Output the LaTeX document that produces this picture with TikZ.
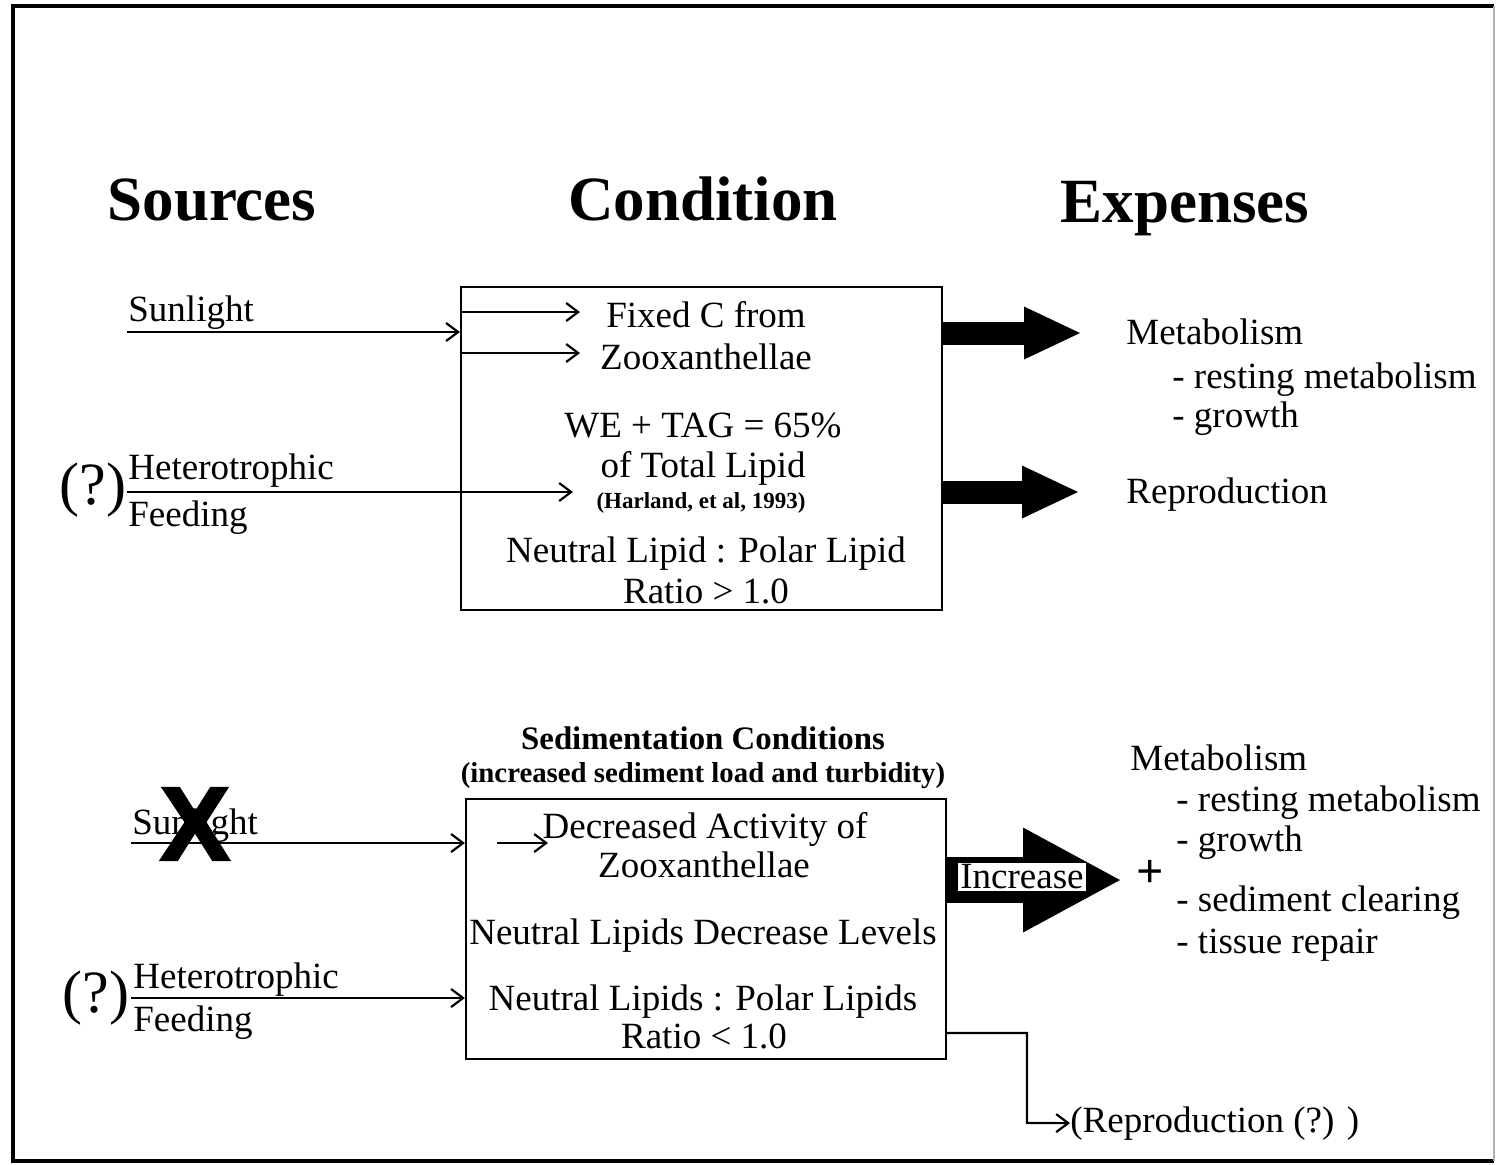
\documentclass[tikz,border=0pt]{standalone}
\usepackage{fontspec}
\setmainfont{Liberation Serif}
\newfontfamily\xfont[FakeBold=2.5]{Liberation Sans}
\usepackage{tikz}
\usetikzlibrary{arrows}
\usetikzlibrary{arrows.meta}

\begin{document}
\begin{tikzpicture}[x=0.5pt,y=-0.5pt,
    txt/.style={font=\fontsize{18.5}{22}\selectfont,inner sep=0pt},
    head/.style={font=\fontsize{31.5}{36}\selectfont\bfseries,inner sep=0pt},
    ln/.style={line width=1.1pt},
    >={Straight Barb[length=6pt,width=9pt]},
    fatarrow/.style={line width=11.5pt,-{Triangle[length=28pt,width=26.5pt,line width=0pt]}},
    bigarrow/.style={line width=23pt,-{Triangle[length=48.5pt,width=52.5pt,line width=0pt]}}]
    \useasboundingbox (0,0) rectangle (1497,1164);
    \draw[line width=2pt] (1494,6) -- (13,6) -- (13,1161) -- (1494,1161);
    \draw[gray!60,line width=0.6pt] (1494,6) -- (1494,1161);

    % headings
    \node[head,anchor=base] (sources) at (212,220) {Sources};
    \node[head,anchor=base] (condition) at (703,220) {Condition};
    \node[head,anchor=base] (expenses) at (1185,222) {Expenses};

    % normal condition
    \node[draw,ln,minimum width=240.5pt,minimum height=161.5pt,inner sep=0pt] (topbox) at (701.5,448.5) {};
    \node[txt,anchor=base] (fixc) at (706,327) {Fixed C from};
    \node[txt,anchor=base] (zoox) at (706,369) {Zooxanthellae};
    \node[txt,anchor=base] (wetag) at (703,437) {WE + TAG = 65\%};
    \node[txt,anchor=base] (total) at (703,477) {of Total Lipid};
    \node[font=\fontsize{11.5}{13}\selectfont\bfseries,inner sep=0pt,anchor=base] (harland) at (701,508) {(Harland, et al, 1993)};
    \node[txt,anchor=base] (ratio1) at (706,562) {Neutral Lipid : Polar Lipid};
    \node[txt,anchor=base] (ratio1b) at (706,603) {Ratio > 1.0};

    \node[txt,anchor=base west] (sun1) at (128,321) {Sunlight};
    \node[txt,anchor=base west] (het1) at (128,479) {Heterotrophic};
    \node[txt,anchor=base west] (feed1) at (128,526) {Feeding};
    \node[font=\fontsize{30}{32}\selectfont,inner sep=0pt] (q1) at (93,490) {(?)};

    \coordinate (sunA) at (127,332);
    \coordinate (fixin) at (580,312);
    \coordinate (zooin) at (580,353);
    \coordinate (feedA) at (127,492);
    \coordinate (feedB) at (573,492);
    \draw[ln,->] (sunA) -- (topbox.west |- sunA);
    \draw[ln,->] (topbox.west |- fixin) -- (fixin);
    \draw[ln,->] (topbox.west |- zooin) -- (zooin);
    \draw[ln,->] (feedA) -- (feedB);

    \node[txt,anchor=base west] (metab1) at (1126,344) {Metabolism};
    \node[txt,anchor=base west] (rest1) at (1172,388) {- resting metabolism};
    \node[txt,anchor=base west] (grow1) at (1172,427) {- growth};
    \node[txt,anchor=base west] (repro1) at (1126,503) {Reproduction};

    \coordinate (metabtip) at (1080,333);
    \coordinate (reprotip) at (1078,492);
    \draw[fatarrow] (topbox.east |- metabtip) -- (metabtip);
    \draw[fatarrow] (topbox.east |- reprotip) -- (reprotip);

    % sedimentation
    \node[font=\fontsize{16.4}{18}\selectfont\bfseries,inner sep=0pt,anchor=base] (sedim) at (703,749) {Sedimentation Conditions};
    \node[font=\fontsize{14.4}{16}\selectfont\bfseries,inner sep=0pt,anchor=base] (sedimb) at (703,782) {(increased sediment load and turbidity)};
    \node[draw,ln,minimum width=240pt,minimum height=130pt,inner sep=0pt] (botbox) at (706,929) {};
    \node[txt,anchor=base] (decr) at (705,838) {Decreased Activity of};
    \node[txt,anchor=base] (zoox2) at (704,877) {Zooxanthellae};
    \node[txt,anchor=base] (levels) at (703,944) {Neutral Lipids Decrease Levels};
    \node[txt,anchor=base] (ratio2) at (703,1010) {Neutral Lipids : Polar Lipids};
    \node[txt,anchor=base] (ratio2b) at (704,1048) {Ratio < 1.0};

    \node[txt,anchor=base west] (sun2) at (132,834) {Sunlight};
    \node[txt,anchor=base west] (het2) at (133,988) {Heterotrophic};
    \node[txt,anchor=base west] (feed2) at (133,1031) {Feeding};
    \node[font=\fontsize{30}{32}\selectfont,inner sep=0pt] (q2) at (96,998) {(?)};

    \coordinate (sunC) at (131,843);
    \coordinate (decA) at (497,843);
    \coordinate (decB) at (548,843);
    \coordinate (feedC) at (131,998);
    \draw[ln,->] (sunC) -- (botbox.west |- sunC);
    \draw[ln,->] (decA) -- (decB);
    \draw[ln,->] (feedC) -- (botbox.west |- feedC);
    \node[font=\xfont\bfseries\fontsize{52}{52}\selectfont,inner sep=0pt] (nosun) at (195,824) {X};

    \coordinate (incrtip) at (1120,880);
    \draw[bigarrow] (botbox.east |- incrtip) -- (incrtip);
    \node[txt,fill=white,inner sep=1pt] (incr) at (1022,877) {Increase};
    \node[font=\fontsize{24}{24}\selectfont\bfseries,inner sep=0pt] (plus) at (1150,874) {+};

    \node[txt,anchor=base west] (metab2) at (1130,770) {Metabolism};
    \node[txt,anchor=base west] (rest2) at (1176,811) {- resting metabolism};
    \node[txt,anchor=base west] (grow2) at (1176,851) {- growth};
    \node[txt,anchor=base west] (clear2) at (1176,911) {- sediment clearing};
    \node[txt,anchor=base west] (repair2) at (1176,953) {- tissue repair};

    \node[txt,anchor=base west] (repro2) at (1070,1132) {(Reproduction (?) )};
    \coordinate (rout) at (946,1033);
    \coordinate (rbend) at (1027,1123);
    \draw[ln,->] (botbox.east |- rout) -| (rbend) -- (repro2.west);
  \end{tikzpicture}
\end{document}
